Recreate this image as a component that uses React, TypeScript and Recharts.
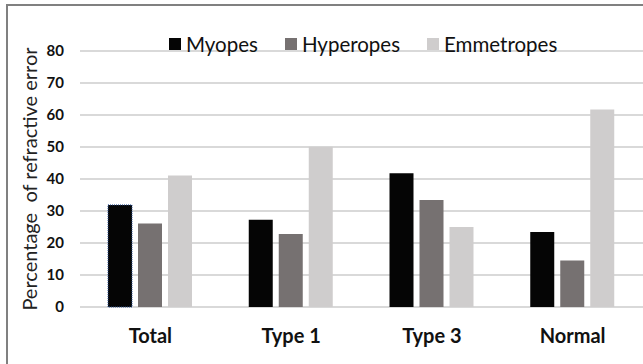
import { Bar, BarChart, CartesianGrid, Cell, Label, Legend, XAxis, YAxis } from "recharts";

const categories = ["Total", "Type 1", "Type 3", "Normal"];
const myopes = [31.9, 27.3, 41.8, 23.4];
const hyperopes = [26.1, 22.8, 33.4, 14.5];
const emmetropes = [41.1, 50.1, 25.0, 61.7];
const yTicks = [0, 10, 20, 30, 40, 50, 60, 70, 80];

const series = [
  { key: "Myopes", color: "#050505" },
  { key: "Hyperopes", color: "#767171" },
  { key: "Emmetropes", color: "#cfcdcd" }
];

const data = categories.map((name, i) => ({
  name,
  Myopes: myopes[i],
  Hyperopes: hyperopes[i],
  Emmetropes: emmetropes[i]
}));

const FONT = "Lato, 'Open Sans', sans-serif";

function LegendRow() {
  return (
    <div style={{ display: "flex", paddingLeft: 169, fontFamily: FONT, fontSize: 20.5, color: "#111" }}>
      {series.map((s) => (
        <div key={s.key} style={{ display: "flex", alignItems: "center", marginRight: 27 }}>
          <span style={{ width: 12, height: 12, background: s.color, marginRight: 5, display: "inline-block" }} />
          <span>{s.key}</span>
        </div>
      ))}
    </div>
  );
}

export default function App() {
  return (
    <div style={{ position: "absolute", left: 0, top: 0, width: 643, height: 364, background: "#fff", overflow: "hidden" }}>
      <div
        style={{
          position: "absolute",
          left: 6,
          top: 4,
          right: -10,
          bottom: -10,
          borderTop: "2px solid #808080",
          borderLeft: "2px solid #808080"
        }}
      />
      <div style={{ position: "absolute", left: 0, top: 0 }}>
        <BarChart width={643} height={364} data={data} margin={{ top: 27, right: 0, left: 0, bottom: 0 }} barSize={24} barGap={6}>
          <CartesianGrid vertical={false} stroke="#d9d9d9" strokeWidth={2} />
          <XAxis
            dataKey="name"
            axisLine={false}
            tickLine={false}
            height={57}
            tickMargin={16}
            tick={{ fill: "#111", fontSize: 20, fontWeight: 700, fontFamily: FONT }}
          />
          <YAxis
            width={80}
            domain={[0, 80]}
            ticks={yTicks}
            axisLine={false}
            tickLine={false}
            tickMargin={10}
            tick={{ fill: "#111", fontSize: 15, fontWeight: 700, fontFamily: FONT }}
          >
            <Label
              value={"Percentage\u00A0 of refractive error"}
              angle={-90}
              position="insideLeft"
              offset={30}
              style={{ textAnchor: "middle", fill: "#222", fontSize: 20, fontFamily: FONT }}
            />
          </YAxis>
          <Legend verticalAlign="top" content={<LegendRow />} wrapperStyle={{ top: 32, left: 0, width: 643 }} />
          <Bar dataKey="Myopes" fill={series[0].color} isAnimationActive={false}>
            {data.map((d, i) => (
              <Cell
                key={d.name}
                stroke={i === 0 ? "#2f5597" : "none"}
                strokeDasharray={i === 0 ? "1 1" : undefined}
                strokeWidth={1}
              />
            ))}
          </Bar>
          <Bar dataKey="Hyperopes" fill={series[1].color} isAnimationActive={false} />
          <Bar dataKey="Emmetropes" fill={series[2].color} isAnimationActive={false} />
        </BarChart>
      </div>
    </div>
  );
}
